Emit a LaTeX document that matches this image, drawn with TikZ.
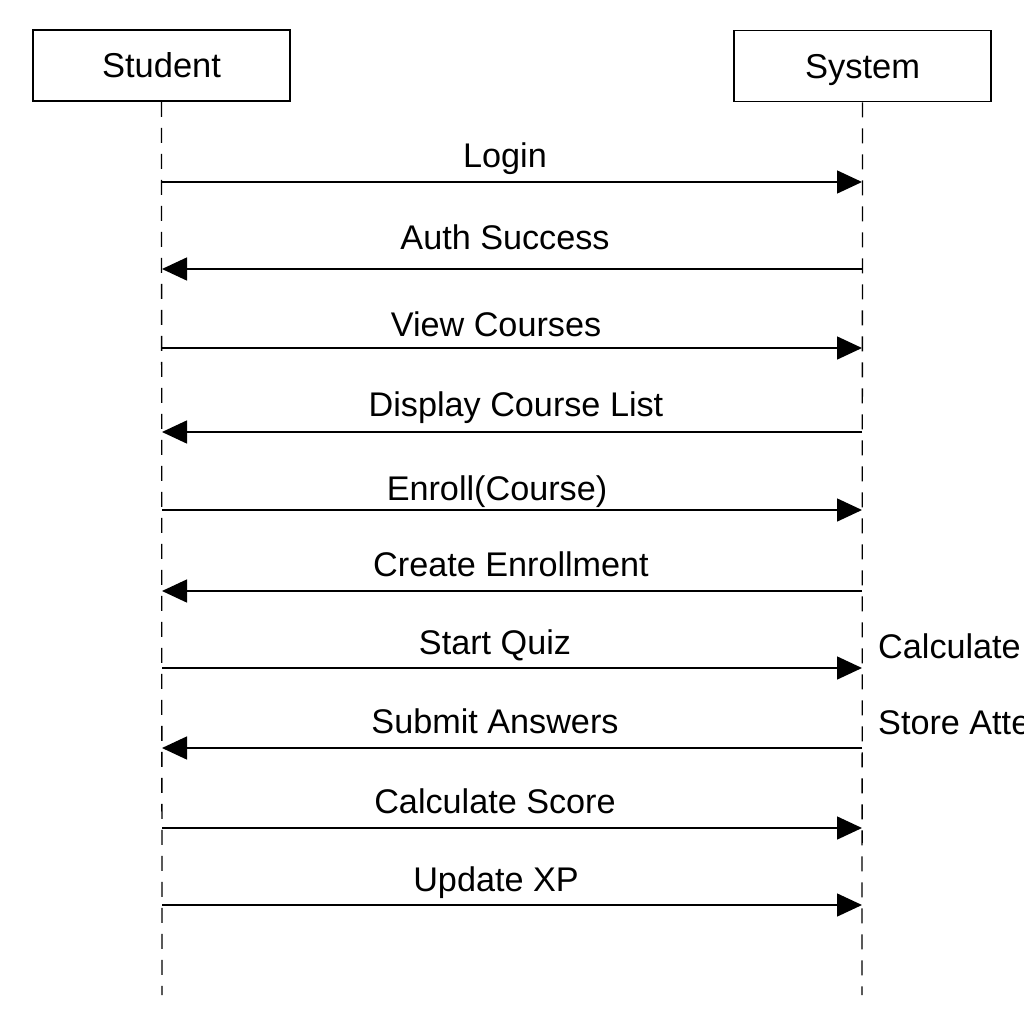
\documentclass[tikz,border=0pt]{standalone}
\usepackage{fontspec}
\setmainfont{Liberation Sans}
\usetikzlibrary{arrows.meta}
\begin{document}
\begin{tikzpicture}[x=1pt,y=-1pt,
  actor/.style={draw,line width=1.6pt,minimum width=257pt,minimum height=71pt,inner sep=0pt,text height=25pt,text depth=0pt,font=\fontsize{34.5}{40}\selectfont},
  life/.style={line width=1.3pt,dash pattern=on 15pt off 11pt},
  msg/.style={line width=1.5pt,-{Triangle[length=25pt,width=23pt]}},
  lbl/.style={font=\fontsize{34.2}{40}\selectfont,inner sep=0pt,anchor=base}]
\useasboundingbox (0,0) rectangle (1024,1024);
\clip (0,0) rectangle (1024,1024);
\node[actor] (student) at (161.5,65.5) {Student};
\node[actor] (system) at (862.5,66) {System};
\coordinate (sEnd) at (162,995);
\coordinate (yEnd) at (862,995);
\draw[life] (student.south) -- (sEnd);
\draw[life] (system.south) -- (yEnd);
\foreach \y/\d/\t/\tx/\ty in {
  182/r/Login/505/168,
  269/l/Auth Success/505/249,
  348/r/View Courses/496/336,
  432/l/Display Course List/516/416,
  510/r/Enroll(Course)/497/500,
  591/l/Create Enrollment/511/576,
  668/r/Start Quiz/495/654,
  748/l/Submit Answers/495/733,
  828/r/Calculate Score/495/813,
  905/r/Update XP/496/891}{
  \coordinate (a\y) at (162,\y);
  \coordinate (b\y) at (862,\y);
  \if\d r
    \draw[msg] (a\y) -- (b\y);
  \else
    \draw[msg] (b\y) -- (a\y);
  \fi
  \node[lbl] (t\y) at (\tx,\ty) {\t};
}
\node[lbl,anchor=base west] (note1) at (878,658) {Calculate Score};
\node[lbl,anchor=base west] (note2) at (878,734) {Store Attempt};
\end{tikzpicture}
\end{document}
